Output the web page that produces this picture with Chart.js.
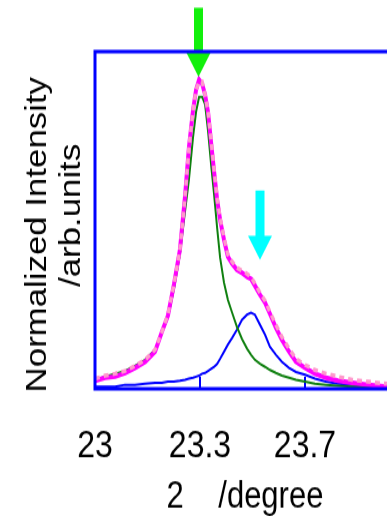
<!DOCTYPE html>
<html>
<head>
<meta charset="utf-8">
<script src="https://cdn.jsdelivr.net/npm/chart.js@4"></script>
<style>
  html, body { margin: 0; padding: 0; background: #fff; width: 387px; height: 516px; overflow: hidden; }
  /* the source picture is stretched vertically, so the canvas is too */
  #chart { display: block; transform: scaleY(1.2); transform-origin: 0 0; }
</style>
</head>
<body>
<canvas id="chart" width="400" height="430"></canvas>
<script>
// 2θ positions (degree)
const twoTheta = [23.000, 23.033, 23.067, 23.100, 23.133, 23.167, 23.200, 23.223, 23.243, 23.263,
  23.283, 23.300, 23.313, 23.327, 23.337, 23.347, 23.357, 23.367, 23.377, 23.387,
  23.397, 23.407, 23.417, 23.430, 23.443, 23.457, 23.473, 23.490, 23.507, 23.520,
  23.533, 23.550, 23.567, 23.583, 23.603, 23.623, 23.647, 23.670, 23.700, 23.733,
  23.770, 23.810, 23.857, 23.910, 23.973];

// observed (light pink)
const observed = [0.030, 0.039, 0.045, 0.053, 0.068, 0.086, 0.116, 0.169, 0.220, 0.309,
  0.412, 0.570, 0.715, 0.828, 0.887, 0.911, 0.911, 0.872, 0.822, 0.739,
  0.650, 0.567, 0.507, 0.448, 0.398, 0.377, 0.359, 0.350, 0.341, 0.332,
  0.312, 0.285, 0.261, 0.228, 0.190, 0.154, 0.119, 0.089, 0.071, 0.056,
  0.045, 0.036, 0.027, 0.021, 0.015];

// fitted sum (magenta)
const fitted = [0.024, 0.033, 0.036, 0.047, 0.062, 0.080, 0.110, 0.169, 0.217, 0.309,
  0.412, 0.570, 0.715, 0.828, 0.887, 0.917, 0.905, 0.872, 0.819, 0.730,
  0.644, 0.561, 0.501, 0.442, 0.392, 0.371, 0.353, 0.344, 0.332, 0.326,
  0.306, 0.279, 0.255, 0.223, 0.181, 0.145, 0.110, 0.080, 0.062, 0.045,
  0.033, 0.024, 0.018, 0.012, 0.006];

// main component (green)
const peak1 = [0.027, 0.036, 0.045, 0.053, 0.068, 0.086, 0.116, 0.166, 0.211, 0.294,
  0.398, 0.525, 0.620, 0.748, 0.822, 0.866, 0.866, 0.843, 0.763, 0.665,
  0.576, 0.478, 0.389, 0.315, 0.264, 0.226, 0.184, 0.148, 0.119, 0.101,
  0.086, 0.074, 0.065, 0.056, 0.047, 0.039, 0.033, 0.027, 0.021, 0.015,
  0.012, 0.009, 0.006, 0.006, 0.003];

// shoulder component (blue)
const peak2 = [0.006, 0.006, 0.006, 0.012, 0.012, 0.015, 0.018, 0.018, 0.021, 0.021,
  0.024, 0.027, 0.030, 0.033, 0.036, 0.039, 0.045, 0.047, 0.053, 0.059,
  0.065, 0.074, 0.089, 0.110, 0.131, 0.151, 0.175, 0.205, 0.220, 0.226,
  0.220, 0.190, 0.160, 0.125, 0.101, 0.080, 0.062, 0.050, 0.042, 0.030,
  0.021, 0.015, 0.012, 0.009, 0.006];

const tickValues = [23, 23.35, 23.7];
const tickLabels = ["23", "23.3", "23.7"];

// peak markers: x, arrow tip, arrow tail
const arrowX = [23.345, 23.55];
const arrowTip = [0.925, 0.383];
const arrowTail = [1.13, 0.588];
const arrowColors = ["#12f00c", "#00ffff"];

const pts = (ys) => twoTheta.map((x, i) => ({ x, y: ys[i] }));

const arrowPlugin = {
  id: "arrows",
  afterDraw(chart) {
    const { ctx, scales } = chart;
    ctx.save();
    arrowX.forEach((xv, i) => {
      const x = scales.x.getPixelForValue(xv);
      const tip = scales.y.getPixelForValue(arrowTip[i]);
      const tail = scales.y.getPixelForValue(arrowTail[i]);
      const head = 20;
      ctx.fillStyle = arrowColors[i];
      ctx.fillRect(x - 4.5, tail, 9, tip - head - tail + 1);
      ctx.beginPath();
      ctx.moveTo(x - 12, tip - head);
      ctx.lineTo(x + 12, tip - head);
      ctx.lineTo(x, tip);
      ctx.closePath();
      ctx.fill();
    });
    ctx.restore();
  },
};

// blue box round the plot, drawn over the arrow shaft as in the source
const framePlugin = {
  id: "frame",
  afterDraw(chart) {
    const { ctx, chartArea: a } = chart;
    ctx.save();
    ctx.strokeStyle = "#0000ff";
    ctx.lineWidth = 3;
    ctx.strokeRect(a.left, a.top, a.right - a.left, a.bottom - a.top);
    ctx.restore();
  },
};

new Chart(document.getElementById("chart"), {
  type: "line",
  data: {
    datasets: [
      { label: "observed", data: pts(observed), borderColor: "#ff99cc", borderWidth: 3.5, borderDash: [5, 4], order: 0 },
      { label: "fit", data: pts(fitted), borderColor: "#ff00ff", borderWidth: 4, order: 1 },
      { label: "peak 1", data: pts(peak1), borderColor: "#108010", borderWidth: 2, order: 2 },
      { label: "peak 2", data: pts(peak2), borderColor: "#0000ff", borderWidth: 2, order: 3 },
    ],
  },
  options: {
    responsive: false,
    devicePixelRatio: 1,
    animation: false,
    layout: { padding: { top: 43, right: 5, bottom: 0, left: 0 } },
    elements: { point: { radius: 0 }, line: { tension: 0, fill: false } },
    plugins: { legend: { display: false }, tooltip: { enabled: false } },
    scales: {
      x: {
        type: "linear",
        min: 23,
        max: 24,
        afterFit: (s) => { s.height = 106; },
        afterBuildTicks: (s) => { s.ticks = tickValues.map((v) => ({ value: v })); },
        grid: { drawOnChartArea: false, drawTicks: true, tickLength: -10, color: "#0000ff", lineWidth: 2 },
        border: { display: false },
        ticks: {
          autoSkip: false,
          maxRotation: 0,
          padding: 42,
          color: "#000",
          font: { family: "Liberation Sans", size: 32, lineHeight: 1 },
          callback: (v, i) => tickLabels[i],
        },
        title: {
          display: true,
          text: "2    /degree",
          color: "#000",
          font: { family: "Liberation Sans", size: 31, lineHeight: 1 },
          padding: { top: 0, bottom: 0 },
        },
      },
      y: {
        min: 0,
        max: 1,
        afterFit: (s) => { s.width = 95; },
        grid: { display: false },
        border: { display: false },
        ticks: { display: false },
        title: {
          display: true,
          text: ["Normalized Intensity   ", " /arb.units"],
          color: "#000",
          font: { family: "Liberation Sans", size: 29, lineHeight: 1.17 },
          padding: { top: 21, bottom: 0 },
        },
      },
    },
  },
  plugins: [arrowPlugin, framePlugin],
});
</script>
</body>
</html>
